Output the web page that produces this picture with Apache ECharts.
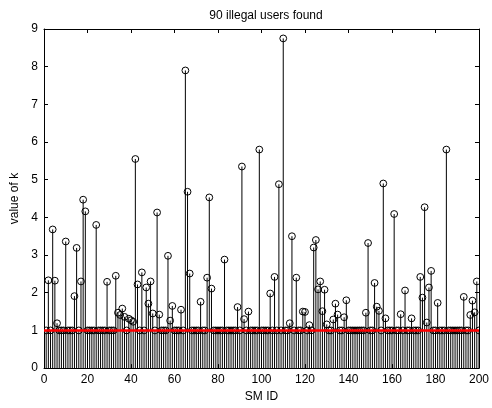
<!DOCTYPE html>
<html>
<head>
<meta charset="utf-8">
<script src="https://cdn.jsdelivr.net/npm/echarts@6/dist/echarts.min.js"></script>
<style>
  html, body { margin: 0; padding: 0; background: #fff; }
  #chart { width: 492px; height: 408px; }
</style>
</head>
<body>
<div id="chart"></div>
<script>
// k value per smart meter, SM ID 1..200
const kValues = [
  1, 2.33, 1, 3.68, 2.32, 1.19, 1, 1, 1, 3.36,
  1, 1, 1, 1.91, 3.19, 1, 2.30, 4.47, 4.16, 1,
  1, 1, 1, 3.80, 1, 1, 1, 1, 2.29, 1,
  1, 1, 2.45, 1.47, 1.41, 1.58, 1.36, 1, 1.31, 1.27,
  1.23, 5.55, 2.22, 1, 2.54, 1, 2.14, 1.71, 2.30, 1.45,
  1, 4.13, 1.42, 1, 1, 1, 2.98, 1.26, 1.65, 1,
  1, 1, 1.55, 1, 7.90, 4.68, 2.51, 1, 1, 1,
  1, 1.76, 1, 1, 2.40, 4.53, 2.11, 1, 1, 1,
  1, 1, 2.88, 1, 1, 1, 1, 1, 1.62, 1,
  5.35, 1.30, 1, 1.50, 1, 1, 1, 1, 5.80, 1,
  1, 1, 1, 1.98, 1, 2.42, 1, 4.88, 1, 8.75,
  1, 1, 1.19, 3.50, 1, 2.40, 1, 1, 1.50, 1.49,
  1, 1.14, 1, 3.20, 3.40, 2.09, 2.30, 1.51, 2.08, 1.16,
  1, 1, 1.29, 1.71, 1.42, 1, 1, 1.35, 1.80, 1,
  1, 1, 1, 1, 1, 1, 1, 1.47, 3.32, 1,
  1, 2.26, 1.63, 1.52, 1, 4.90, 1.32, 1, 1, 1,
  4.09, 1, 1, 1.43, 1, 2.06, 1, 1, 1.32, 1,
  1, 1, 2.42, 1.87, 4.27, 1.21, 2.14, 2.58, 1, 1,
  1.73, 1, 1, 1, 5.80, 1, 1, 1, 1, 1,
  1, 1, 1.89, 1, 1, 1.41, 1.79, 1.48, 2.30, 1
];
const threshold = 1;
const xTicks = { min: 0, max: 200, step: 20 };
const yTicks = { min: 0, max: 9, step: 1 };
const titleText = '90 illegal users found';
const xName = 'SM ID';
const yName = 'value of k';

const stemData = kValues.map((v, i) => [i + 1, v]);

const FONT = 'Liberation Sans, Arial, Helvetica, sans-serif';
const labelStyle = { color: '#000', fontFamily: FONT, fontSize: 12 };

const chart = echarts.init(document.getElementById('chart'), null, { renderer: 'canvas' });

function axisCommon(extra) {
  return Object.assign({
    axisLine: { show: true, onZero: false, lineStyle: { color: '#000', width: 1 } },
    axisTick: { show: true, inside: true, length: 4, lineStyle: { color: '#000' } },
    splitLine: { show: false }
  }, extra);
}

chart.setOption({
  animation: false,
  backgroundColor: '#fff',
  title: {
    text: titleText,
    left: 261, top: 5, textAlign: 'center',
    textStyle: { fontFamily: FONT, fontSize: 12, fontWeight: 'normal', color: '#000' }
  },
  grid: { left: 44, right: 13, top: 29, bottom: 38, containLabel: false },
  xAxis: [
    axisCommon({
      type: 'value', position: 'bottom',
      min: xTicks.min, max: xTicks.max, interval: xTicks.step,
      axisLabel: Object.assign({ margin: 6 }, labelStyle),
      name: xName, nameLocation: 'middle', nameGap: 22,
      nameTextStyle: labelStyle
    }),
    axisCommon({
      type: 'value', position: 'top',
      min: xTicks.min, max: xTicks.max, interval: xTicks.step,
      axisLabel: { show: false }
    })
  ],
  yAxis: [
    axisCommon({
      type: 'value', position: 'left',
      min: yTicks.min, max: yTicks.max, interval: yTicks.step,
      axisLabel: Object.assign({ margin: 6 }, labelStyle),
      name: yName, nameLocation: 'middle', nameGap: 18, nameRotate: 90,
      nameTextStyle: labelStyle
    }),
    axisCommon({
      type: 'value', position: 'right',
      min: yTicks.min, max: yTicks.max, interval: yTicks.step,
      axisLabel: { show: false }
    })
  ],
  series: [
    {
      type: 'custom',
      name: 'k',
      xAxisIndex: 0, yAxisIndex: 0,
      clip: true,
      data: stemData,
      renderItem: function (params, api) {
        const base = api.coord([api.value(0), 0]);
        const top = api.coord([api.value(0), api.value(1)]);
        return {
          type: 'group',
          children: [
            {
              type: 'line',
              shape: { x1: base[0], y1: base[1], x2: top[0], y2: top[1] },
              style: { stroke: '#000', lineWidth: 1 }
            },
            {
              type: 'circle',
              shape: { cx: top[0], cy: top[1], r: 3.4 },
              style: { fill: null, stroke: '#000', lineWidth: 1 }
            }
          ]
        };
      }
    },
    {
      type: 'line',
      name: 'threshold',
      xAxisIndex: 0, yAxisIndex: 0,
      data: [[xTicks.min, threshold], [xTicks.max, threshold]],
      symbol: 'none',
      lineStyle: { color: '#ff0000', width: 2.5 },
      z: 10
    }
  ]
});
</script>
</body>
</html>
